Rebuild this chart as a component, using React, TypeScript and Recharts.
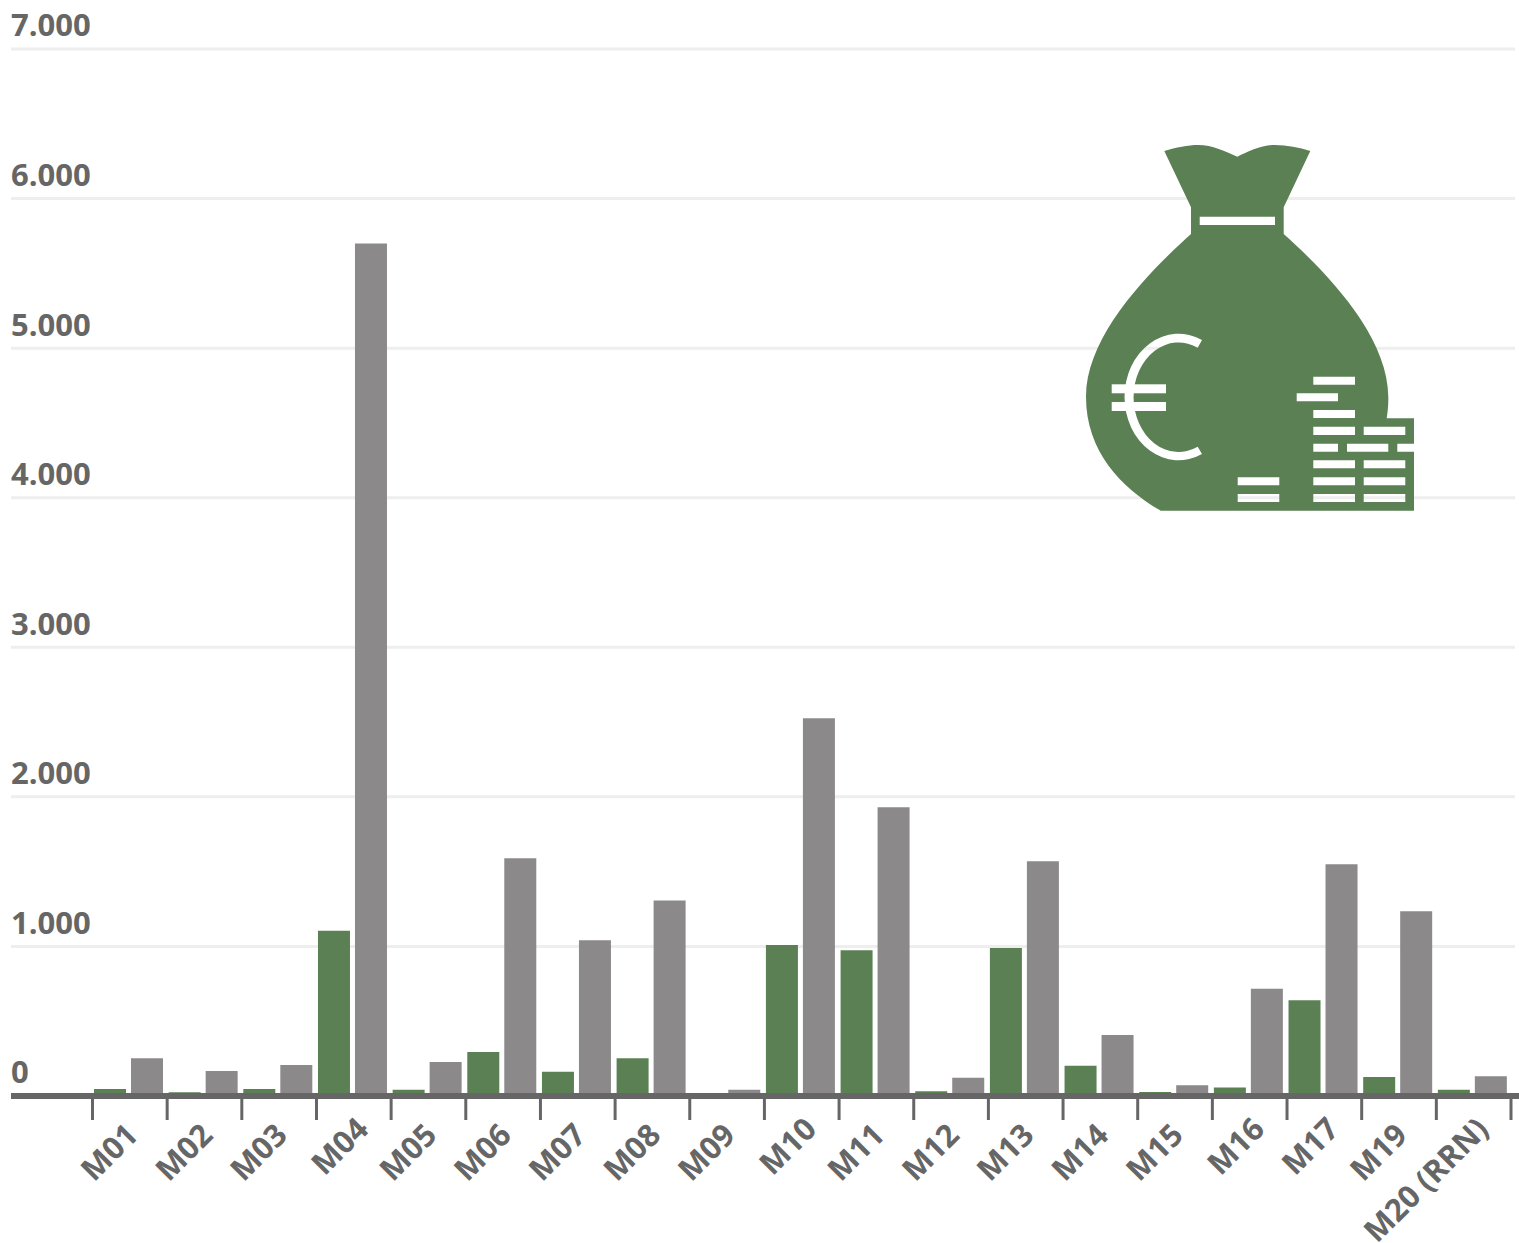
import { BarChart, Bar, XAxis, YAxis, CartesianGrid } from 'recharts'

const categories = ['M01','M02','M03','M04','M05','M06','M07','M08','M09','M10','M11','M12','M13','M14','M15','M16','M17','M19','M20 (RRN)']
const greenValues = [47,25,47,1105,42,295,162,252,15,1010,975,32,990,202,27,57,640,127,42]
const greyValues = [252,167,207,5700,227,1590,1042,1307,42,2525,1930,122,1570,407,72,717,1550,1235,132]
const yTicks = [0,1000,2000,3000,4000,5000,6000,7000]
// the labels that sit further up their slant in the picture
const raisedLabels = ['M04','M10','M16','M17','M20 (RRN)']

const GREEN = '#5a8054'
const GREY = '#8b898a'
const TEXT = '#666666'
const FONT = '"Open Sans", sans-serif'
const BAND = 74.66
const TICK_SHIFT = 1.5

const data = categories.map((name, i) => ({ name, green: greenValues[i], grey: greyValues[i] }))

const fmt = (v: number) => v === 0 ? '0' : v.toLocaleString('de-DE')

function YTick({ y, payload }: any) {
  return <text x={11} y={y - 12.6} fontFamily={FONT} fontWeight={700} fontSize={31} fill={TEXT}>{fmt(payload.value)}</text>
}

function XTick({ x, payload, index }: any) {
  const top = 1099
  const last = index === categories.length - 1
  const left = x + TICK_SHIFT - BAND / 2
  const right = x + TICK_SHIFT + BAND / 2
  const raised = raisedLabels.includes(payload.value)
  const lx = x + 11.5 + (raised ? 6.5 : 0)
  const ly = top + 38 - (raised ? 6 : 0)
  return (
    <g>
      <line x1={left} x2={left} y1={top} y2={top + 21} stroke={TEXT} strokeWidth={3} />
      {last && <line x1={right} x2={right} y1={top} y2={top + 21} stroke={TEXT} strokeWidth={3} />}
      <text x={lx} y={ly} transform={`rotate(-45 ${lx} ${ly})`} textAnchor="end"
        fontFamily={FONT} fontWeight={700} fontSize={31} fill={TEXT}>{payload.value}</text>
    </g>
  )
}

function GridLine({ x1, y1, y2 }: any) {
  return <line x1={x1} x2={1515} y1={y1} y2={y2} stroke="#eeeeee" strokeWidth={3} />
}

const rect = (x1: number, y1: number, x2: number, y2: number) => `M${x1} ${y1}H${x2}V${y2}H${x1}Z`
const slotRows = [[376.7,384.7],[410,418],[426.7,435],[460.3,468.3],[477.3,485.3],[494,502]]

const bagPath = [
  'M1164.3 151C1176 147.5 1188 145 1198.3 145C1212 145 1226 151.5 1237.3 156.7C1248 151.5 1262 145 1275 145C1287 145 1299 147.5 1310.3 151',
  'L1283.7 207.3V234C1325 271 1388 335 1388.3 396.7C1388.5 405 1387.7 412 1386.7 418.3H1414V510.7H1160.7',
  'C1122 488 1086 452 1086 396.7C1086 335 1150 271 1191 234V207.3Z',
  rect(1199.7,216.7,1275,225),
  ...slotRows.map(r => rect(1313.3,r[0],1355,r[1])),
  ...slotRows.slice(2).map(r => rect(1363.7,r[0],1405.3,r[1])),
  rect(1237.7,477.3,1279.3,485.3),
  rect(1237.7,494,1279.3,502),
  rect(1296.7,393.3,1338,401.3),
  rect(1313.3,443.7,1338,451.7),
  rect(1347,443.7,1388.3,451.7),
  rect(1397.3,443.7,1414,451.7),
  'M1202 340A54 63.3 0 1 0 1202 454L1197.7 446.7A45 54.7 0 1 1 1197.7 347.7Z',
].join('')

export default function App() {
  return (
    <div style={{ position: 'absolute', left: 0, top: 0, width: 1519, height: 1243, overflow: 'hidden' }}>
      <BarChart width={1519} height={1243} data={data} barSize={32} barGap={5}
        margin={{ top: 49, right: 0, bottom: 0, left: 10 }}>
        <CartesianGrid vertical={false} horizontal={(p: any) => <GridLine key={p.key} {...p} />} />
        <YAxis width={1} domain={[0, 7000]} ticks={yTicks} tick={<YTick />} tickLine={false} axisLine={false} interval={0} />
        <XAxis dataKey="name" height={147} interval={0} padding={{ left: 80, right: 9.5 }}
          axisLine={{ stroke: TEXT, strokeWidth: 6 }} tickLine={false} tick={<XTick />} />
        <Bar dataKey="green" fill={GREEN} isAnimationActive={false} />
        <Bar dataKey="grey" fill={GREY} isAnimationActive={false} />
      </BarChart>
      <svg width={1519} height={1243} style={{ position: 'absolute', left: 0, top: 0 }}>
        <path d={bagPath} fill={GREEN} fillRule="evenodd" />
        <rect x={1111.7} y={384.3} width={54.3} height={9} fill="#ffffff" />
        <rect x={1111.7} y={402} width={54.3} height={9} fill="#ffffff" />
      </svg>
    </div>
  )
}
